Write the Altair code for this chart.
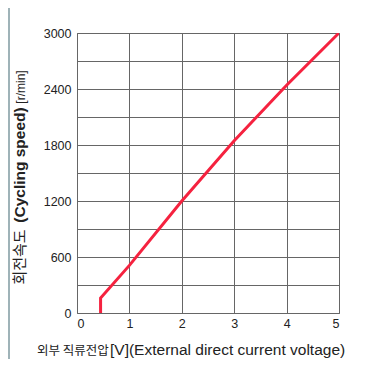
import altair as alt
import pandas as pd

# data
voltage = [0.45, 0.45, 1.0, 2.0, 3.0, 4.0, 5.0]
speed = [0, 160, 510, 1200, 1845, 2440, 3000]

x_ticks = [0, 1, 2, 3, 4, 5]
y_grid = [0, 300, 600, 900, 1200, 1500, 1800, 2100, 2400, 2700, 3000]

df = pd.DataFrame({"v": voltage, "s": speed})

W, H = 262, 280
FONT = "Liberation Sans"
KFONT = "Noto Sans CJK KR"
GRID = "#666"

line = alt.Chart(df).mark_line(color="#f5223f", strokeWidth=3, clip=True).encode(
    x=alt.X("v:Q", scale=alt.Scale(domain=[0, 5], nice=False),
            axis=alt.Axis(values=x_ticks, title=None, grid=True, ticks=False, domain=False,
                          labelFont=FONT, labelFontSize=12.5, labelColor="#222",
                          labelPadding=4, gridColor=GRID, gridOpacity=1, gridWidth=1)),
    y=alt.Y("s:Q", scale=alt.Scale(domain=[0, 3000], nice=False),
            axis=alt.Axis(values=y_grid, title=None, grid=True, ticks=False, domain=False,
                          format="d",
                          labelExpr="datum.value % 600 == 0 ? datum.label : ''",
                          labelFont=FONT, labelFontSize=12.5, labelColor="#222",
                          labelPadding=6, gridColor=GRID, gridOpacity=1, gridWidth=1)),
    order=alt.Order("idx:Q"),
).transform_window(idx="row_number()")


def txt(s, x, y, size, font=FONT, weight="normal", angle=0, align="left", baseline="alphabetic", color="#222"):
    return alt.Chart(pd.DataFrame({"t": [s]})).mark_text(
        font=font, fontSize=size, fontWeight=weight, angle=angle, align=align,
        baseline=baseline, color=color,
    ).encode(text="t:N", x=alt.value(x), y=alt.value(y))


# y title pieces (rotated)
yt1 = txt("회전속도", -52, 224, 15, font=KFONT, angle=270, align="center")
yt2 = txt("(Cycling speed)", -52, 132, 15.5, weight="bold", angle=270, align="center")
yt3 = txt("[r/min]", -52, 54, 12, angle=270, align="center")

# x title pieces
xt1 = txt("외부 직류전압", -40, 322, 12.5, font=KFONT)
xt2 = txt("[V](External direct current voltage)", 33, 322, 15.5)

# frame piece
left_border = alt.Chart(pd.DataFrame({"a": [0]})).mark_rule(color="#7f9aa0", strokeWidth=1.5).encode(
    x=alt.value(-68), y=alt.value(-25), y2=alt.value(326))

chart = alt.layer(line, yt1, yt2, yt3, xt1, xt2, left_border).properties(
    width=W, height=H,
    autosize=alt.AutoSizeParams(type="none"),
    padding={"left": 69, "top": 25, "right": 20, "bottom": 46},
    background="white",
).configure_view(stroke=GRID, strokeWidth=1)

chart.save("out.html", embed_options={"renderer": "svg", "actions": False})
